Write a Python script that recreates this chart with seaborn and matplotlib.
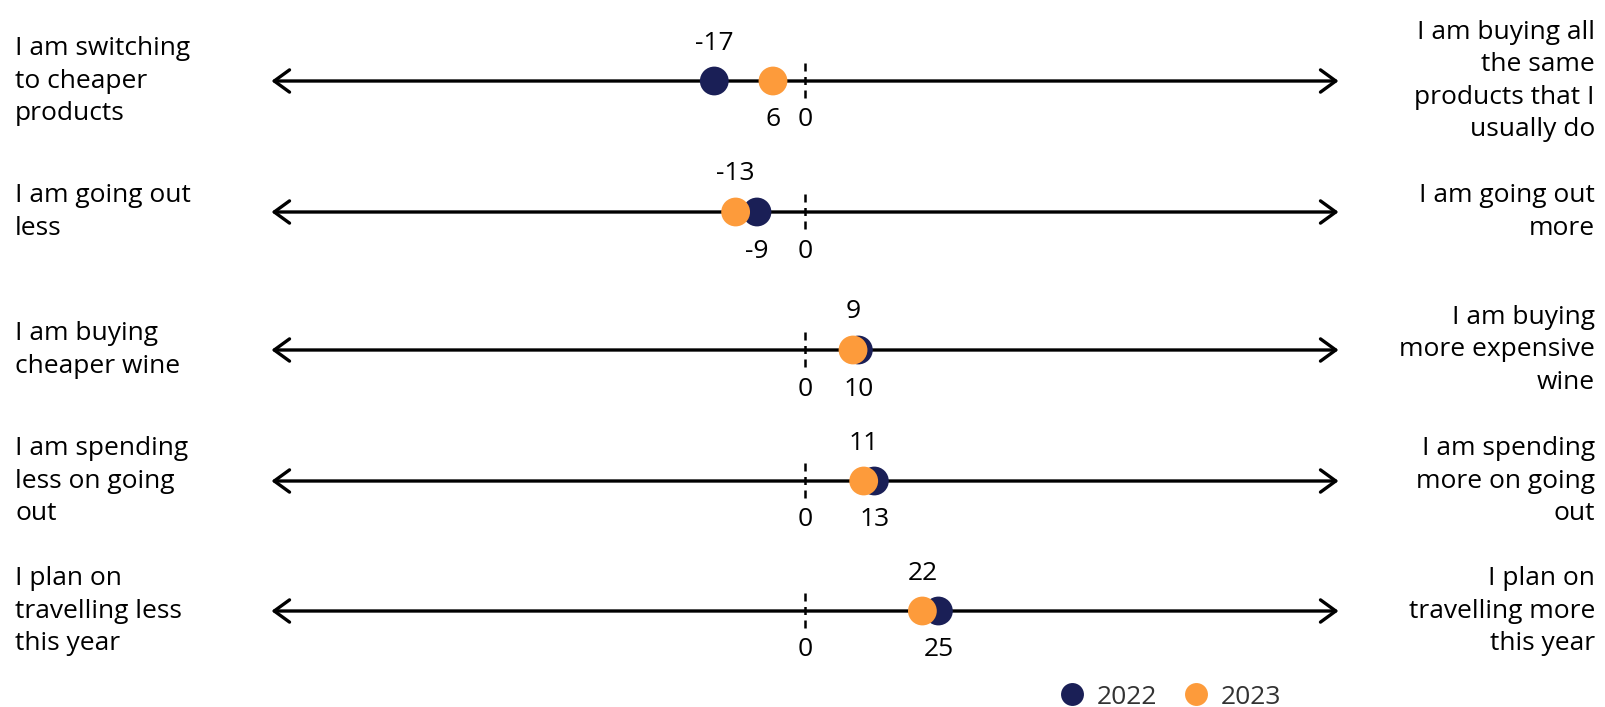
import matplotlib
matplotlib.use("Agg")
import matplotlib.pyplot as plt
from matplotlib.lines import Line2D
import seaborn as sns
import pandas as pd

# Survey statements (left pole / right pole)
left_labels = [
    "I am switching\nto cheaper\nproducts",
    "I am going out\nless",
    "I am buying\ncheaper wine",
    "I am spending\nless on going\nout",
    "I plan on\ntravelling less\nthis year",
]
right_labels = [
    "I am buying all\nthe same\nproducts that I\nusually do",
    "I am going out\nmore",
    "I am buying\nmore expensive\nwine",
    "I am spending\nmore on going\nout",
    "I plan on\ntravelling more\nthis year",
]

# Net scores per year
values_2022 = [-17, -9, 10, 13, 25]
values_2023 = [-6, -13, 9, 11, 22]
# Printed value labels
labels_2022 = ["-17", "-9", "10", "13", "25"]
labels_2023 = ["6", "-13", "9", "11", "22"]

years = ["2022", "2023"]
colors = {"2022": "#1a1f56", "2023": "#fd9b3b"}

# Vertical placement of each row (pixel units from the top)
row_y = [81, 212, 350, 481, 611]

sns.set_theme(style="white")
plt.rcParams["font.family"] = ["Open Sans", "DejaVu Sans"]

W, H = 1606, 707
fig = plt.figure(figsize=(W / 100, H / 100), dpi=100)
ax = fig.add_axes([0, 0, 1, 1])

px_per_unit = 5.336
zero_px = 805
ax.set_xlim(-zero_px / px_per_unit, (W - zero_px) / px_per_unit)
ax.set_ylim(H, 0)
ax.axis("off")


def px_to_x(px):
    return (px - zero_px) / px_per_unit


rows = []
for i in range(len(row_y)):
    rows.append({"row": i, "y": row_y[i], "year": "2022", "value": values_2022[i], "label": labels_2022[i]})
    rows.append({"row": i, "y": row_y[i], "year": "2023", "value": values_2023[i], "label": labels_2023[i]})
df = pd.DataFrame(rows)

fs = 19
for i, y in enumerate(row_y):
    # double-headed axis line
    ax.annotate("", xy=(100, y), xytext=(-100, y),
                arrowprops=dict(arrowstyle="<->, head_length=0.55, head_width=0.4",
                                lw=2.4, color="black", mutation_scale=20,
                                shrinkA=0, shrinkB=0))
    # dashed zero marker
    ax.plot([0, 0], [y - 18, y + 18], color="black", lw=1.8,
            linestyle=(0, (3.2, 2.2)), zorder=2)
    ax.text(0, y + 39, "0", ha="center", va="center", fontsize=fs, color="black")
    ax.text(px_to_x(15), y, left_labels[i], ha="left", va="center",
            fontsize=fs, color="black", linespacing=1.37)
    ax.text(px_to_x(1595), y, right_labels[i], ha="right", va="center",
            fontsize=fs, color="black", linespacing=1.37)

    # smaller value labelled above, larger below
    sub = df[df.row == i].sort_values("value")
    lo, hi = sub.iloc[0], sub.iloc[1]
    ax.text(lo.value, y - 38, lo.label, ha="center", va="center", fontsize=fs, color="black")
    ax.text(hi.value, y + 39, hi.label, ha="center", va="center", fontsize=fs, color="black")

sns.scatterplot(data=df, x="value", y="y", hue="year", palette=colors,
                hue_order=years, s=430, edgecolor="none", linewidth=0,
                legend=False, ax=ax, zorder=3)

# legend
handles = [Line2D([], [], marker="o", linestyle="none", markersize=16.5,
                  markerfacecolor=colors[yr], markeredgecolor="none", label=yr)
           for yr in years]
ax.legend(handles=handles, loc="center left", bbox_to_anchor=(1056 / W, 1 - 697 / H),
          ncol=2, frameon=False, fontsize=fs, handletextpad=0.35, handlelength=1.2,
          columnspacing=0.85, borderaxespad=0, borderpad=0, labelcolor="#333333")

fig.savefig("out.png", dpi=100)
